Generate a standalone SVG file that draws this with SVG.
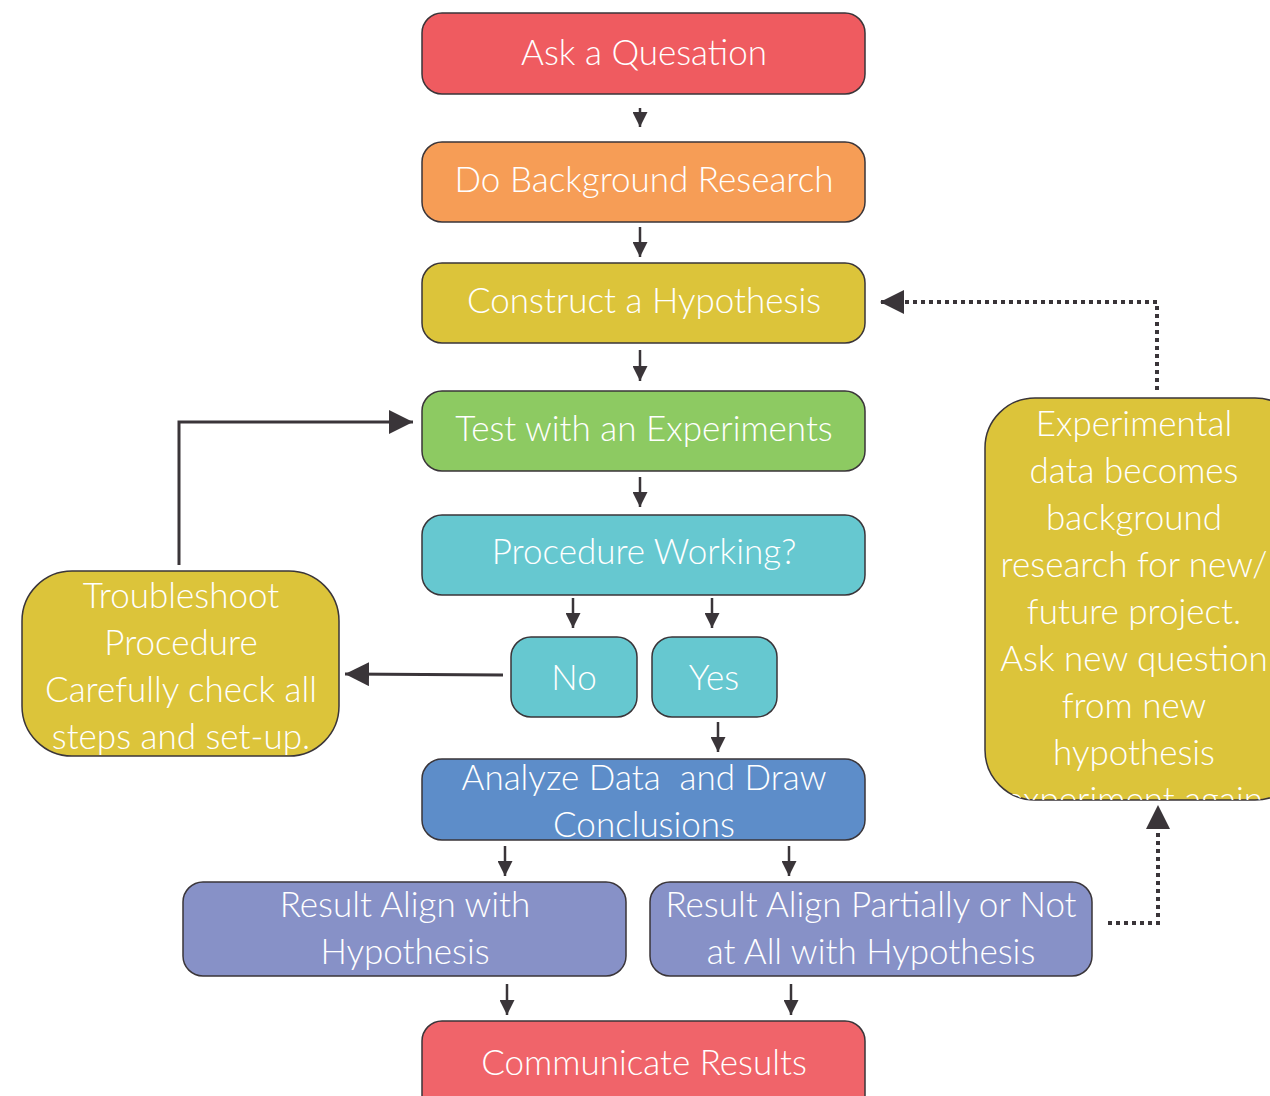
<svg xmlns="http://www.w3.org/2000/svg" width="1270" height="1096" viewBox="0 0 1270 1096">
<style>
.box{stroke:#3a3539;stroke-width:1.5}
.t{font-family:Lato,"Open Sans","Liberation Sans",sans-serif;font-weight:300;font-size:35px;fill:#ffffff;text-anchor:middle}
.ln{stroke:#3a3539;stroke-width:3;fill:none}
.sm{stroke:#3a3539;stroke-width:2.5;fill:none}
.dot{stroke:#3a3539;stroke-width:4;fill:none;stroke-dasharray:4 4}
</style>
<defs>
<marker id="ah" viewBox="0 0 10 10" refX="10" refY="5" markerWidth="8" markerHeight="8" markerUnits="strokeWidth" orient="auto"><path d="M0,0L10,5L0,10z" fill="#3a3539"/></marker>
<marker id="sa" viewBox="0 0 10 10" refX="10" refY="5" markerWidth="6" markerHeight="6" markerUnits="strokeWidth" orient="auto"><path d="M0,0L10,5L0,10z" fill="#3a3539"/></marker>
<marker id="da" viewBox="0 0 10 10" refX="10" refY="5" markerWidth="6" markerHeight="6" markerUnits="strokeWidth" orient="auto"><path d="M0,0L10,5L0,10z" fill="#3a3539"/></marker>
<clipPath id="cT"><rect x="22" y="571" width="317" height="185" rx="50"/></clipPath>
<clipPath id="cE"><rect x="985" y="398" width="320" height="402" rx="50"/></clipPath>
</defs>
<rect width="1270" height="1096" fill="#ffffff"/>
<g id="connectors">
<path class="sm" d="M640,108V127" marker-end="url(#sa)"/>
<path class="sm" d="M640,227V257" marker-end="url(#sa)"/>
<path class="sm" d="M640,350V381" marker-end="url(#sa)"/>
<path class="sm" d="M640,477V507" marker-end="url(#sa)"/>
<path class="sm" d="M573,598V628" marker-end="url(#sa)"/>
<path class="sm" d="M712,598V628" marker-end="url(#sa)"/>
<path class="sm" d="M718,722V752" marker-end="url(#sa)"/>
<path class="sm" d="M505,846V876" marker-end="url(#sa)"/>
<path class="sm" d="M789,846V876" marker-end="url(#sa)"/>
<path class="sm" d="M507,984V1015" marker-end="url(#sa)"/>
<path class="sm" d="M791,984V1015" marker-end="url(#sa)"/>
<path class="ln" d="M179,565V422H413" marker-end="url(#ah)"/>
<path class="ln" d="M503,675L345,674" marker-end="url(#ah)"/>
<path class="dot" d="M1108,923H1158V805" marker-end="url(#da)"/>
<path class="dot" d="M1157,390V302H880" marker-end="url(#da)"/>
</g>
<g id="ask"><rect class="box" x="422" y="13" width="443" height="81" rx="20" fill="#ef5b60"/><text class="t" x="644" y="65">Ask a Quesation</text></g>
<g id="background"><rect class="box" x="422" y="142" width="443" height="80" rx="20" fill="#f69d56"/><text class="t" x="644" y="192">Do Background Research</text></g>
<g id="hypothesis"><rect class="box" x="422" y="263" width="443" height="80" rx="20" fill="#dcc43a"/><text class="t" x="644" y="313">Construct a Hypothesis</text></g>
<g id="test"><rect class="box" x="422" y="391" width="443" height="80" rx="20" fill="#8dca62"/><text class="t" x="644" y="441">Test with an Experiments</text></g>
<g id="procedure"><rect class="box" x="422" y="515" width="443" height="80" rx="20" fill="#66c8d0"/><text class="t" x="644" y="564">Procedure Working?</text></g>
<g id="no"><rect class="box" x="511" y="637" width="126" height="80" rx="20" fill="#66c8d0"/><text class="t" x="574" y="690">No</text></g>
<g id="yes"><rect class="box" x="652" y="637" width="125" height="80" rx="20" fill="#66c8d0"/><text class="t" x="714" y="690">Yes</text></g>
<g id="troubleshoot"><rect class="box" x="22" y="571" width="317" height="185" rx="50" fill="#dcc43a"/>
<g clip-path="url(#cT)"><text class="t" x="181" y="608">Troubleshoot</text><text class="t" x="181" y="655">Procedure</text><text class="t" x="181" y="702">Carefully check all</text><text class="t" x="181" y="749">steps and set-up.</text></g></g>
<g id="analyze"><rect class="box" x="422" y="759" width="443" height="81" rx="20" fill="#5d8dc9"/><text class="t" x="644" y="790" xml:space="preserve">Analyze Data  and Draw</text><text class="t" x="644" y="837">Conclusions</text></g>
<g id="align"><rect class="box" x="183" y="882" width="443" height="94" rx="20" fill="#8791c7"/><text class="t" x="405" y="917">Result Align with</text><text class="t" x="405" y="964">Hypothesis</text></g>
<g id="partial"><rect class="box" x="650" y="882" width="442" height="94" rx="20" fill="#8791c7"/><text class="t" x="871" y="917">Result Align Partially or Not</text><text class="t" x="871" y="964">at All with Hypothesis</text></g>
<g id="communicate"><rect class="box" x="422" y="1021" width="443" height="100" rx="20" fill="#f0646a"/><text class="t" x="644" y="1075">Communicate Results</text></g>
<g id="experimental"><rect class="box" x="985" y="398" width="320" height="402" rx="50" fill="#dcc43a"/>
<g clip-path="url(#cE)"><text class="t" x="1134" y="436">Experimental</text><text class="t" x="1134" y="483">data becomes</text><text class="t" x="1134" y="530">background</text><text class="t" x="1134" y="577">research for new/</text><text class="t" x="1134" y="624">future project.</text><text class="t" x="1134" y="671">Ask new question</text><text class="t" x="1134" y="718">from new</text><text class="t" x="1134" y="765">hypothesis</text><text class="t" x="1134" y="812">experiment again</text></g></g>
</svg>
